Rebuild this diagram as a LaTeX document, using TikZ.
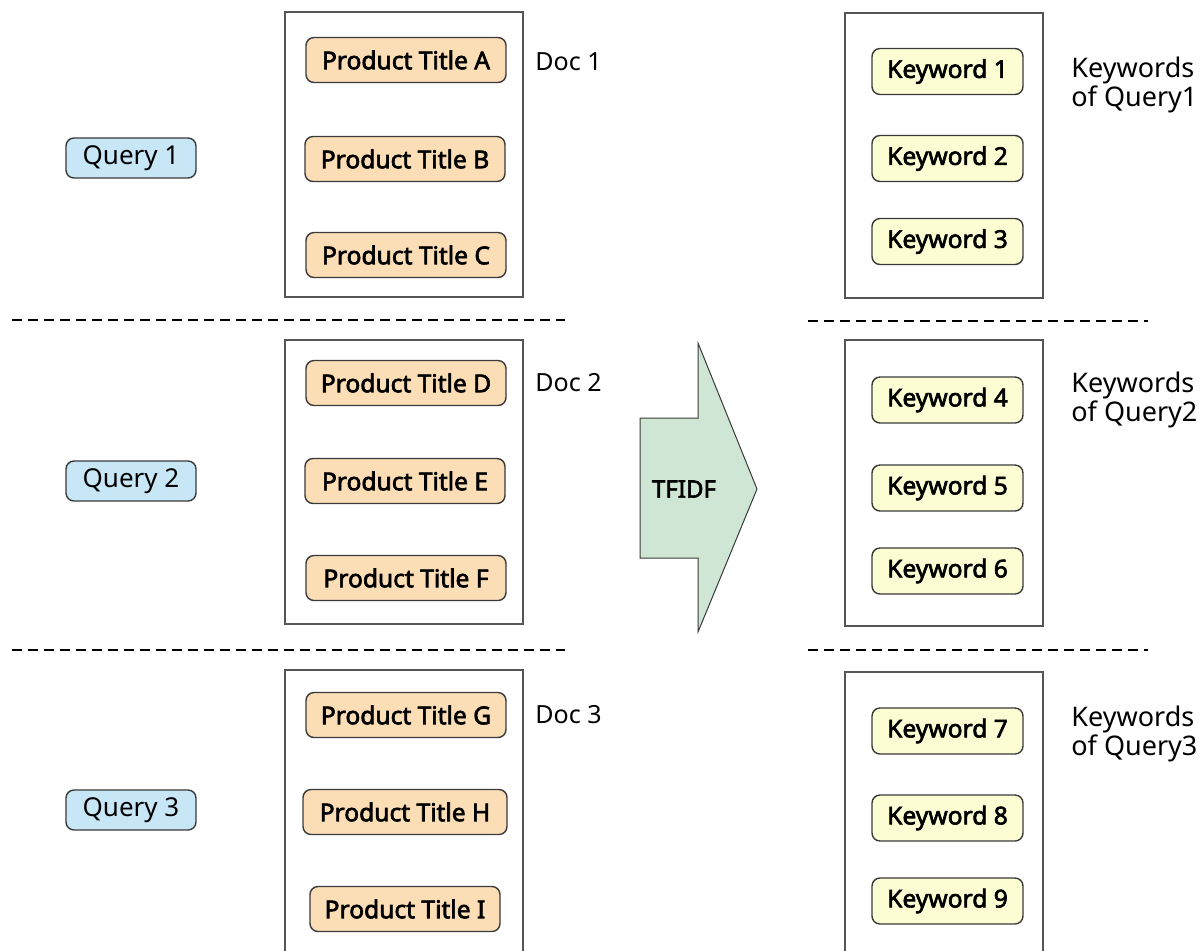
\documentclass[tikz,border=0pt]{standalone}
\usepackage{fontspec}
\setmainfont{Noto Sans}[AutoFakeBold=2.6]
\definecolor{qfill}{HTML}{C8E7F6}
\definecolor{pfill}{HTML}{FBDDB6}
\definecolor{kfill}{HTML}{FDFDD3}
\definecolor{afill}{HTML}{CFE6D5}
\definecolor{edge}{HTML}{3A3A3A}
\definecolor{boxedge}{HTML}{555555}
\begin{document}
\begin{tikzpicture}[x=0.5pt,y=-0.5pt,
  docbox/.style={draw=boxedge, line width=0.75pt, minimum width=119pt, inner sep=0pt},
  item/.style={draw=edge, line width=0.7pt, rounded corners=4pt, inner sep=0pt,
    font=\fontsize{12.3}{14}\selectfont\bfseries},
  query/.style={item, fill=qfill, minimum width=65pt, minimum height=20pt, font=\fontsize{13}{15}\selectfont},
  prod/.style={item, fill=pfill, minimum width=100pt, minimum height=22.5pt},
  kw/.style={item, fill=kfill, minimum width=75.5pt, minimum height=23pt},
  lab/.style={anchor=west, align=left, inner sep=0pt, font=\fontsize{13.5}{14.5}\selectfont},
  doclab/.style={anchor=west, inner sep=0pt, font=\fontsize{12.5}{14}\selectfont},
  sep/.style={dash pattern=on 5pt off 3pt, line width=1pt}
]
\useasboundingbox (0,0) rectangle (1200,950);

% separators
\draw[sep] (12,320) -- (565,320);
\draw[sep] (12,650) -- (565,650);
\draw[sep] (808,321) -- (1148,321);
\draw[sep] (808,650) -- (1148,650);

% doc boxes
\node[docbox, minimum height=142.5pt] (doc1) at (404,154.5) {};
\node[docbox, minimum height=142pt] (doc2) at (404,482) {};
\node[docbox, minimum height=145pt] (doc3) at (404,815) {};
\node[docbox, minimum width=99pt, minimum height=142.5pt] (kb1) at (944,155.5) {};
\node[docbox, minimum width=99pt, minimum height=143pt] (kb2) at (944,483) {};
\node[docbox, minimum width=99pt, minimum height=144pt] (kb3) at (944,816) {};

% queries
\node[query] (q1) at (131,158) {Query 1};
\node[query] (q2) at (131,481) {Query 2};
\node[query] (q3) at (131,810) {Query 3};

% product titles
\node[prod] (pa) at (406,60) {Product Title A};
\node[prod] (pb) at (405,159) {Product Title B};
\node[prod] (pc) at (406,255) {Product Title C};
\node[prod] (pd) at (406,383) {Product Title D};
\node[prod] (pe) at (405,481) {Product Title E};
\node[prod] (pf) at (406,578) {Product Title F};
\node[prod] (pg) at (406,715) {Product Title G};
\node[prod, minimum width=102pt] (ph) at (405,812) {Product Title H};
\node[prod, minimum width=95pt] (pi) at (405,909) {Product Title I};

% doc labels
\node[doclab] (dl1) at (535,62) {Doc 1};
\node[doclab] (dl2) at (535,383) {Doc 2};
\node[doclab] (dl3) at (535,715) {Doc 3};

% keywords
\node[kw] (k1) at (947.5,71.5) {Keyword 1};
\node[kw] (k2) at (947.5,158.5) {Keyword 2};
\node[kw] (k3) at (947.5,241.5) {Keyword 3};
\node[kw] (k4) at (947.5,400) {Keyword 4};
\node[kw] (k5) at (947.5,488) {Keyword 5};
\node[kw] (k6) at (947.5,571) {Keyword 6};
\node[kw] (k7) at (947.5,731) {Keyword 7};
\node[kw] (k8) at (947.5,818) {Keyword 8};
\node[kw] (k9) at (947.5,901) {Keyword 9};

% keyword labels
\node[lab] (kl1) at (1071,85) {Keywords\\of Query1};
\node[lab] (kl2) at (1071,400) {Keywords\\of Query2};
\node[lab] (kl3) at (1071,734) {Keywords\\of Query3};

% TFIDF arrow
\draw[fill=afill, draw=edge, line width=0.5pt, line join=miter]
  (640,418) -- (698,418) -- (698,343) -- (757,489) -- (698,632) -- (698,558) -- (640,558) -- cycle;
\node[font=\fontsize{12}{14}\selectfont\bfseries, inner sep=0pt] (tfidf) at (684,489) {TFIDF};
\end{tikzpicture}
\end{document}
